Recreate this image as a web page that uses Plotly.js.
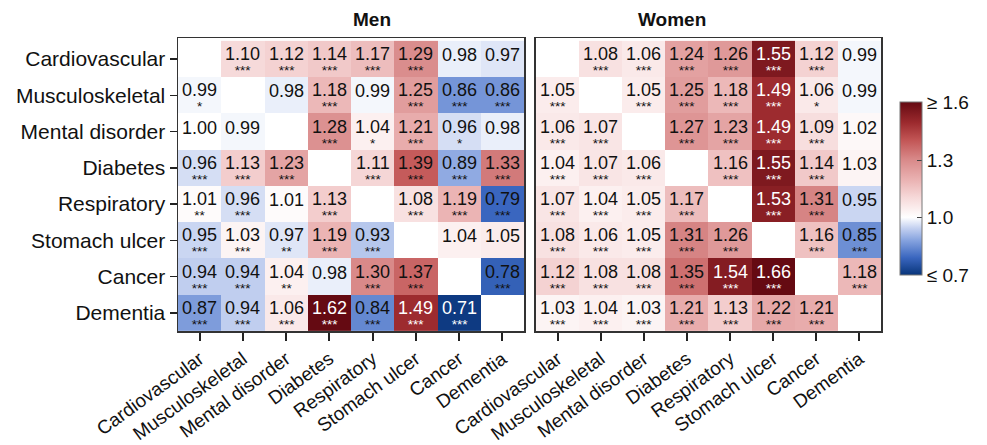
<!DOCTYPE html>
<html>
<head>
<meta charset="utf-8">
<script src="https://cdn.plot.ly/plotly-3.0.1.min.js"></script>
<style>html,body{margin:0;padding:0;background:#fff;}</style>
</head>
<body>
<div id="chart" style="width:987px;height:445px;"></div>
<script>
const categories = ["Cardiovascular","Musculoskeletal","Mental disorder","Diabetes","Respiratory","Stomach ulcer","Cancer","Dementia"];

const menValues = [
  [null,1.10,1.12,1.14,1.17,1.29,0.98,0.97],
  [0.99,null,0.98,1.18,0.99,1.25,0.86,0.86],
  [1.00,0.99,null,1.28,1.04,1.21,0.96,0.98],
  [0.96,1.13,1.23,null,1.11,1.39,0.89,1.33],
  [1.01,0.96,1.01,1.13,null,1.08,1.19,0.79],
  [0.95,1.03,0.97,1.19,0.93,null,1.04,1.05],
  [0.94,0.94,1.04,0.98,1.30,1.37,null,0.78],
  [0.87,0.94,1.06,1.62,0.84,1.49,0.71,null]
];
const menStars = [
  ["","***","***","***","***","***","",""],
  ["*","","","***","","***","***","***"],
  ["","","","***","*","***","*",""],
  ["***","***","***","","***","***","***","***"],
  ["**","***","","***","","***","***","***"],
  ["***","***","**","***","***","","",""],
  ["***","***","**","","***","***","","***"],
  ["***","***","***","***","***","***","***",""]
];
const womenValues = [
  [null,1.08,1.06,1.24,1.26,1.55,1.12,0.99],
  [1.05,null,1.05,1.25,1.18,1.49,1.06,0.99],
  [1.06,1.07,null,1.27,1.23,1.49,1.09,1.02],
  [1.04,1.07,1.06,null,1.16,1.55,1.14,1.03],
  [1.07,1.04,1.05,1.17,null,1.53,1.31,0.95],
  [1.08,1.06,1.05,1.31,1.26,null,1.16,0.85],
  [1.12,1.08,1.08,1.35,1.54,1.66,null,1.18],
  [1.03,1.04,1.03,1.21,1.13,1.22,1.21,null]
];
const womenStars = [
  ["","***","***","***","***","***","***",""],
  ["***","","***","***","***","***","*",""],
  ["***","***","","***","***","***","***",""],
  ["***","***","***","","***","***","***",""],
  ["***","***","***","***","","***","***",""],
  ["***","***","***","***","***","","***","***"],
  ["***","***","***","***","***","***","","***"],
  ["***","***","***","***","***","***","***",""]
];
const panelTitles = ["Men","Women"];
const cbTickVals = [0.7,1.0,1.3,1.6];
const cbTickText = ["≤ 0.7","1.0","1.3","≥ 1.6"];

const colorscale = [
  [0.0,'#08357a'],
  [0.1,'#3a66bf'],
  [0.2,'#86a3df'],
  [0.27,'#c3d0f0'],
  [0.3333,'#ffffff'],
  [0.45,'#f6d8d8'],
  [0.55,'#eab2b2'],
  [0.67,'#d88888'],
  [0.78,'#c25555'],
  [0.88,'#9c2a2e'],
  [1.0,'#650a12']
];

const FONT = 'Arial, "Liberation Sans", sans-serif';
const NARROW = '"Liberation Sans Narrow", "Arial Narrow", Arial, sans-serif';

function heat(z, xa, ya, showscale){
  return {
    type:'heatmap', z:z, x:categories, y:categories,
    xaxis:xa, yaxis:ya, zmin:0.7, zmax:1.6, colorscale:colorscale,
    showscale:showscale, hoverinfo:'skip', xgap:0, ygap:0,
    colorbar: showscale ? {
      x:1.027, xanchor:'left', xref:'paper',
      y:0.485, yanchor:'middle',
      thickness:22, thicknessmode:'pixels',
      len:173, lenmode:'pixels',
      outlinewidth:1, outlinecolor:'#777',
      tickvals:cbTickVals, ticktext:cbTickText,
      ticks:'inside', ticklen:5, tickcolor:'#444', tickwidth:1,
      tickfont:{family:FONT,size:19,color:'#111'},
      ypad:0, xpad:0
    } : undefined
  };
}

const annotations = [];
function addAnn(vals, stars, xr, yr){
  for(let i=0;i<categories.length;i++){
    for(let j=0;j<categories.length;j++){
      const v = vals[i][j];
      if(v===null) continue;
      const col = (v>=1.45 || v<=0.75) ? '#ffffff' : '#111111';
      const s = stars[i][j];
      if(s){
        annotations.push({x:categories[j], y:categories[i], xref:xr, yref:yr,
          text:'<span style="font-size:18px">'+v.toFixed(2)+'</span><br><span style="font-size:13.5px">'+s+'</span>',
          showarrow:false, yshift:-2,
          font:{family:FONT,size:11.5,color:col}});
      } else {
        annotations.push({x:categories[j], y:categories[i], xref:xr, yref:yr,
          text:v.toFixed(2), showarrow:false, yshift:4,
          font:{family:FONT,size:18,color:col}});
      }
    }
  }
}
addAnn(menValues, menStars, 'x', 'y');
addAnn(womenValues, womenStars, 'x2', 'y2');

annotations.push({x:0.2461, y:1.062, xref:'paper', yref:'paper', yanchor:'middle', text:'<b>'+panelTitles[0]+'</b>',
  showarrow:false, font:{family:NARROW,size:19,color:'#111'}});
annotations.push({x:0.7546, y:1.062, xref:'paper', yref:'paper', yanchor:'middle', text:'<b>'+panelTitles[1]+'</b>',
  showarrow:false, font:{family:NARROW,size:19,color:'#111'}});

const xaxisBase = {
  type:'category', categoryorder:'array', categoryarray:categories,
  showline:true, mirror:true, linecolor:'#333', linewidth:1.5,
  ticks:'outside', ticklen:8, tickwidth:2, tickcolor:'#222',
  tickangle:-36, tickfont:{family:FONT,size:19,color:'#111'},
  showgrid:false, zeroline:false, fixedrange:true
};
const yaxisBase = {
  type:'category', categoryorder:'array', categoryarray:categories,
  autorange:'reversed',
  showline:true, mirror:true, linecolor:'#333', linewidth:1.5,
  ticks:'outside', ticklen:7, tickwidth:1.5, tickcolor:'#222',
  tickfont:{family:FONT,size:21,color:'#111'},
  showgrid:false, zeroline:false, fixedrange:true, domain:[0,1]
};

const layout = {
  width:987, height:445,
  margin:{l:178, r:102, t:38, b:114},
  paper_bgcolor:'#fff', plot_bgcolor:'#fff',
  showlegend:false,
  xaxis:Object.assign({}, xaxisBase, {domain:[0,0.4922], anchor:'y'}),
  yaxis:Object.assign({}, yaxisBase, {anchor:'x'}),
  xaxis2:Object.assign({}, xaxisBase, {domain:[0.5092,1], anchor:'y2'}),
  yaxis2:Object.assign({}, yaxisBase, {anchor:'x2', showticklabels:false, ticks:''}),
  annotations:annotations
};

Plotly.newPlot('chart', [heat(menValues,'x','y',false), heat(womenValues,'x2','y2',true)], layout, {displayModeBar:false, staticPlot:true});
</script>
</body>
</html>
